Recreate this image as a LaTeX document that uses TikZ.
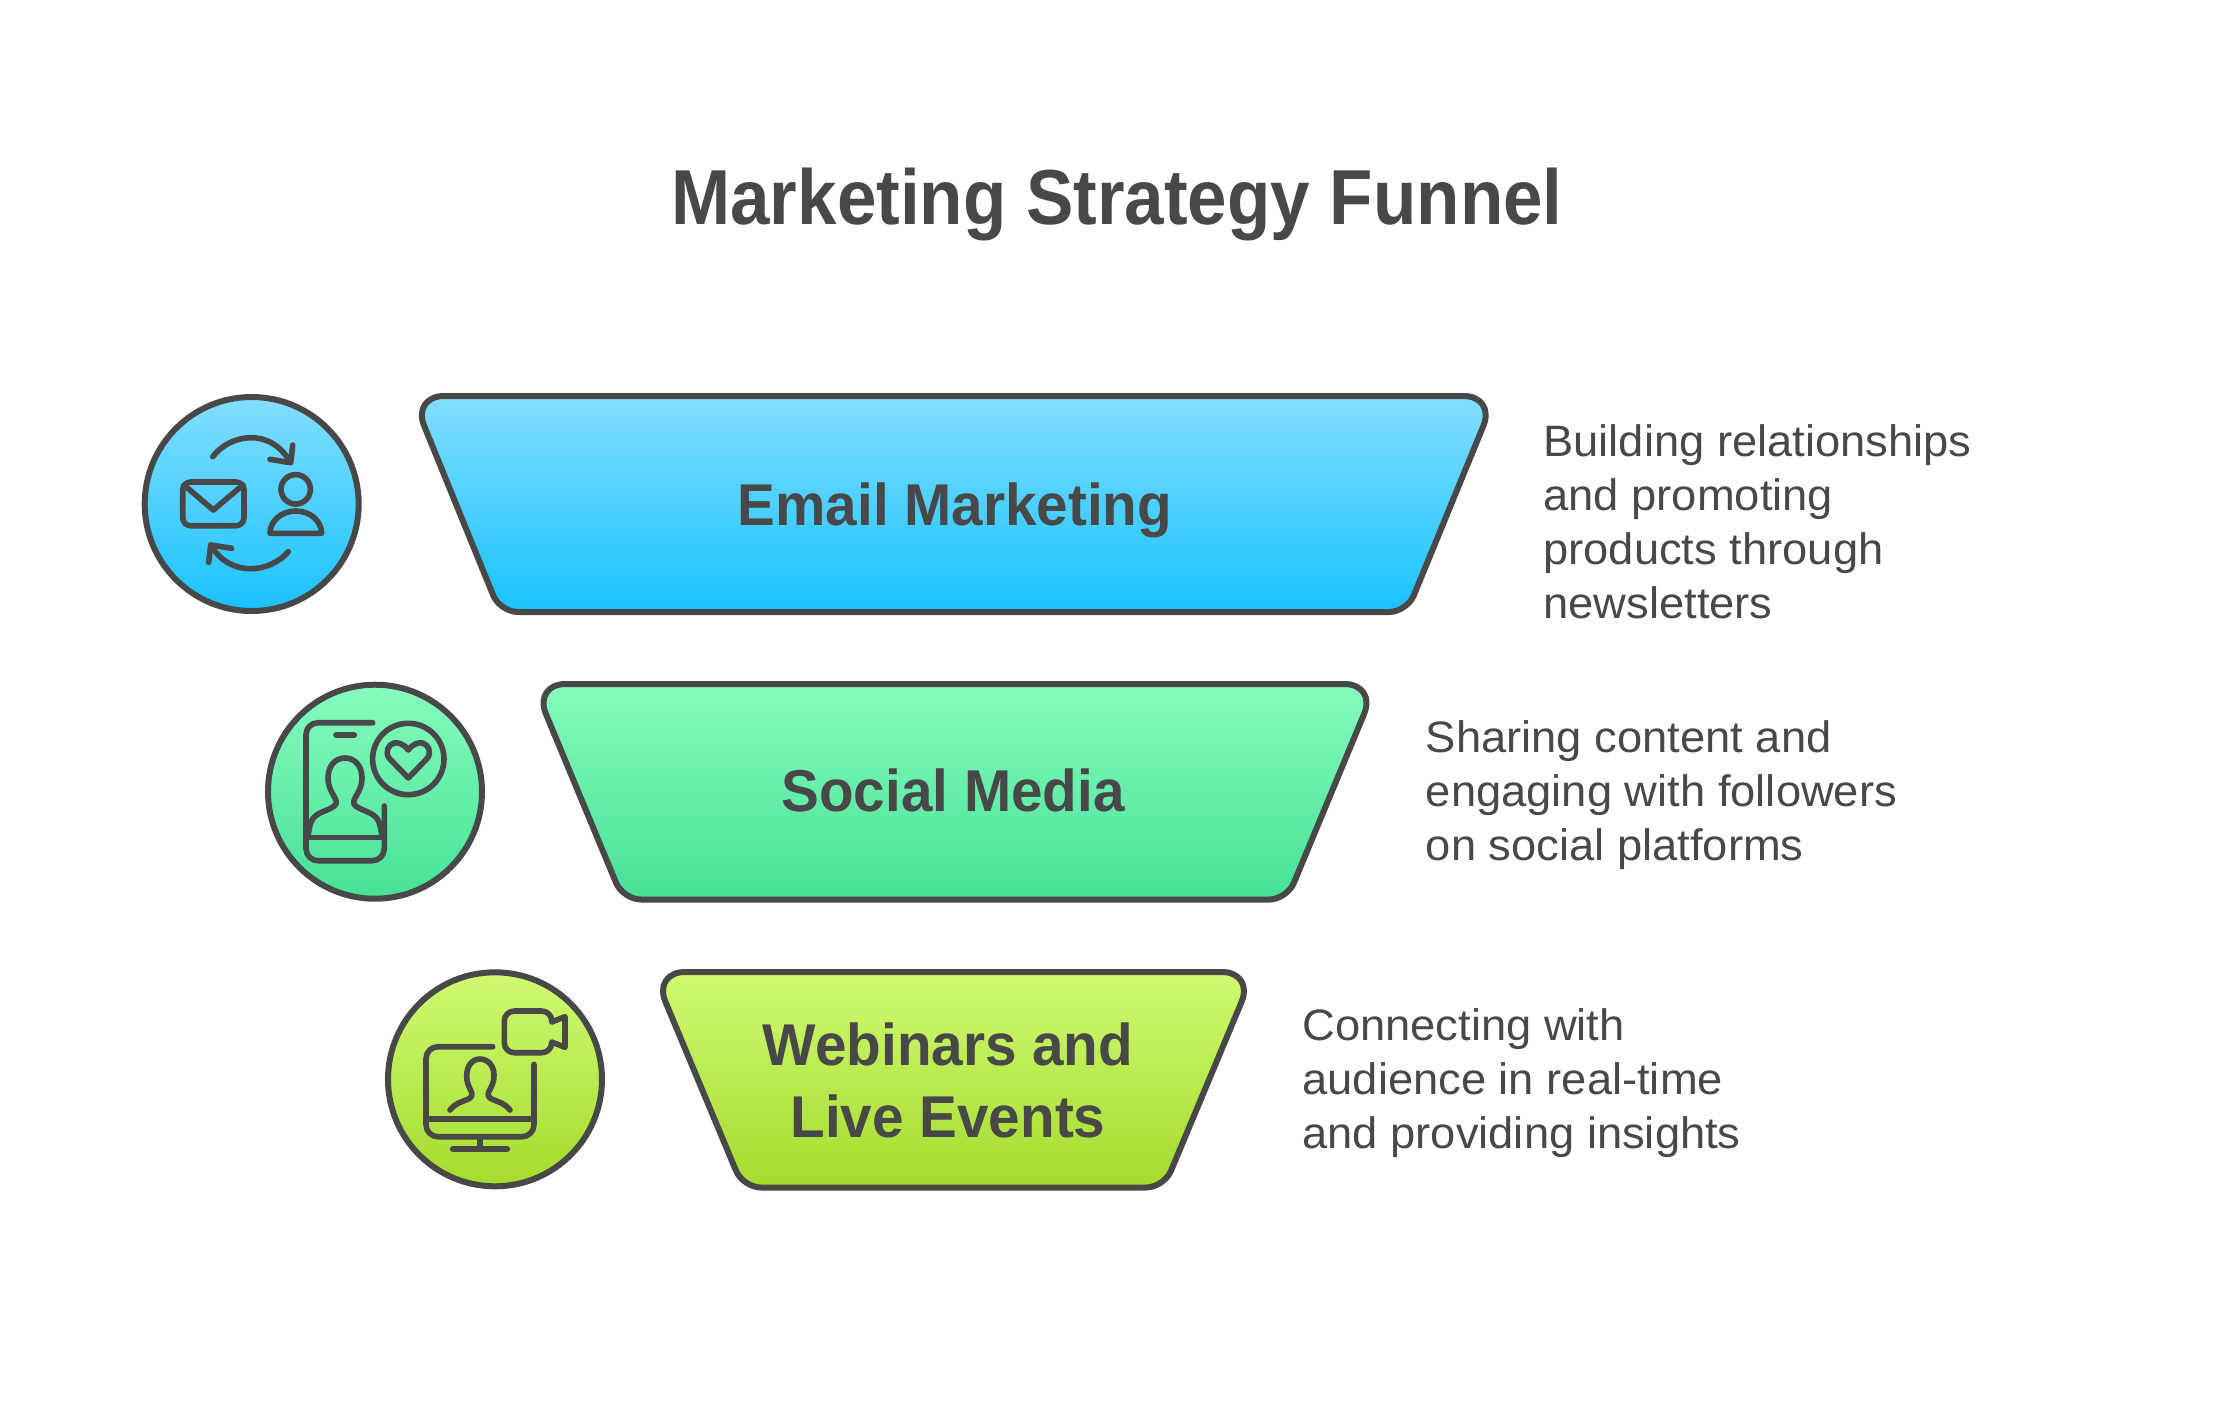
\documentclass[tikz,border=0pt]{standalone}
\usepackage{fontspec}
\setmainfont[FakeStretch=1.03]{Liberation Sans}
\newfontfamily\titlefont[FakeStretch=.91]{Liberation Sans}
\newfontfamily\stagefont[FakeStretch=.96]{Liberation Sans}
\definecolor{ink}{HTML}{484848}
\definecolor{bluetop}{HTML}{82DEFF}
\definecolor{bluebot}{HTML}{19C2FF}
\definecolor{greentop}{HTML}{86FBBE}
\definecolor{greenbot}{HTML}{46E196}
\definecolor{limetop}{HTML}{CFFA72}
\definecolor{limebot}{HTML}{A5DB2D}
\tikzset{
    band/.style={draw=ink, line width=3pt, line join=round},
    bluefill/.style={top color=bluetop, bottom color=bluebot},
    greenfill/.style={top color=greentop, bottom color=greenbot},
    limefill/.style={top color=limetop, bottom color=limebot},
    icon/.style={draw=ink, line width=2.8pt, line cap=round, line join=round},
    heading/.style={text=ink, inner sep=0pt, font=\fontsize{39}{47}\selectfont\titlefont\bfseries},
    stagelabel/.style={text=ink, inner sep=0pt, align=center, font=\fontsize{29.5}{36}\selectfont\stagefont\bfseries},
    note/.style={text=ink, inner sep=0pt, anchor=west, align=left, font=\fontsize{22}{27}\selectfont},
}
\begin{document}
\begin{tikzpicture}[x=.5pt, y=-.5pt]
\useasboundingbox (0,0) rectangle (2223,1404);

\node[heading] (title) at (1117,204) {Marketing Strategy Funnel};

% funnel bands
\draw[band, bluefill] (680,396) [rounded corners=16pt] -- (1495.6,396) [rounded corners=9pt] -- (1407,612) -- (500,612) [rounded corners=16pt] -- (412,396) -- (680,396);
\draw[band, greenfill] (800,684) [rounded corners=16pt] -- (1376.5,684) [rounded corners=9pt] -- (1287,899.5) -- (623,899.5) [rounded corners=16pt] -- (533.5,684) -- (800,684);
\draw[band, limefill] (900,972) [rounded corners=16pt] -- (1254,972) [rounded corners=9pt] -- (1164,1187.5) -- (743,1187.5) [rounded corners=16pt] -- (653,972) -- (900,972);

\node[stagelabel] (email) at (955,510) {Email Marketing};
\node[stagelabel] (social) at (953,790) {Social Media};
\node[stagelabel] (webinars) at (948,1080) {Webinars and\\Live Events};

\node[note] (emailnote) at (1543,522) {Building relationships\\and promoting\\products through\\newsletters};
\node[note] (socialnote) at (1425.5,795) {Sharing content and\\engaging with followers\\on social platforms};
\node[note] (webinarsnote) at (1302,1083.5) {Connecting with\\audience in real-time\\and providing insights};

% discs
\draw[band, bluefill] (251.7,504) circle[radius=107];
\draw[band, greenfill] (375,791.7) circle[radius=107];
\draw[band, limefill] (495,1079.3) circle[radius=107];

% envelope and person
\draw[icon, rounded corners=4pt] (182.7,482) rectangle (244,525.7);
\draw[icon] (184,485)--(213.3,510)--(243,485);
\draw[icon] (295.7,489.3) circle[radius=14.7];
\draw[icon] (270,533.3) arc[start angle=180, end angle=360, x radius=25.8, y radius=22.3] -- cycle;
\draw[icon] (212.7,456.7) .. controls (230,434) and (270,427) .. (290,461.7);
\draw[icon] (270,459.3)--(290.7,462.7)--(292.7,445);
\draw[icon] (288.3,551.7) .. controls (270,573) and (230,578) .. (210.7,545);
\draw[icon] (231.7,548.3)--(210.7,545)--(208.7,562.3);

% phone and heart
\draw[icon, rounded corners=6pt] (372.7,722.7)--(306,722.7)--(306,860.7)--(384.3,860.7)--(384.3,806);
\draw[icon] (336,735)--(354.3,735);
\draw[icon] (307.3,837.3)--(383.3,837.3);
\draw[icon] (308,836) .. controls (310,825) and (310,818) .. (320,813) .. controls (326,810) and (334,808) .. (336,804) .. controls (338,798) and (328,792) .. (328,778) .. controls (328,765) and (336,758) .. (345,758) .. controls (354,758) and (362,765) .. (362,778) .. controls (362,792) and (352,798) .. (354,804) .. controls (356,808) and (364,810) .. (370,813) .. controls (380,818) and (380,825) .. (382,836);
\draw[icon] (408.3,759) circle[radius=35.7];
\draw[icon] (408.3,750) .. controls (404,744) and (398,742) .. (394,743) .. controls (388,744.5) and (385,752) .. (389,758) -- (408.3,778) -- (427.6,758) .. controls (431.6,752) and (428.6,744.5) .. (422.6,743) .. controls (418.6,742) and (412.6,744) .. (408.3,750) -- cycle;

% monitor and camera
\draw[icon, rounded corners=6pt] (492.7,1046.7)--(426,1046.7)--(426,1136.7)--(534,1136.7)--(534,1064.3);
\draw[icon] (426.7,1119)--(533.3,1119);
\draw[icon] (480,1136.7)--(480,1149);
\draw[icon] (452.7,1149)--(507.3,1149);
\draw[icon] (450,1110) .. controls (456,1102) and (466,1101) .. (470,1098) .. controls (476,1093) and (466,1088) .. (466.7,1075) .. controls (467,1066) and (472,1059) .. (480,1059) .. controls (488,1059) and (494,1066) .. (494,1075) .. controls (494.5,1088) and (484,1093) .. (490,1098) .. controls (494,1101) and (504,1102) .. (510,1110);
\draw[icon] (525,1011) [rounded corners=5pt] -- (504.3,1011) -- (504.3,1052.7) -- (551.7,1052.7) [sharp corners] -- (551.7,1042) -- (565,1047.3) -- (565,1016.7) -- (551.7,1022) [rounded corners=5pt] -- (551.7,1011) -- (525,1011);
\end{tikzpicture}
\end{document}
